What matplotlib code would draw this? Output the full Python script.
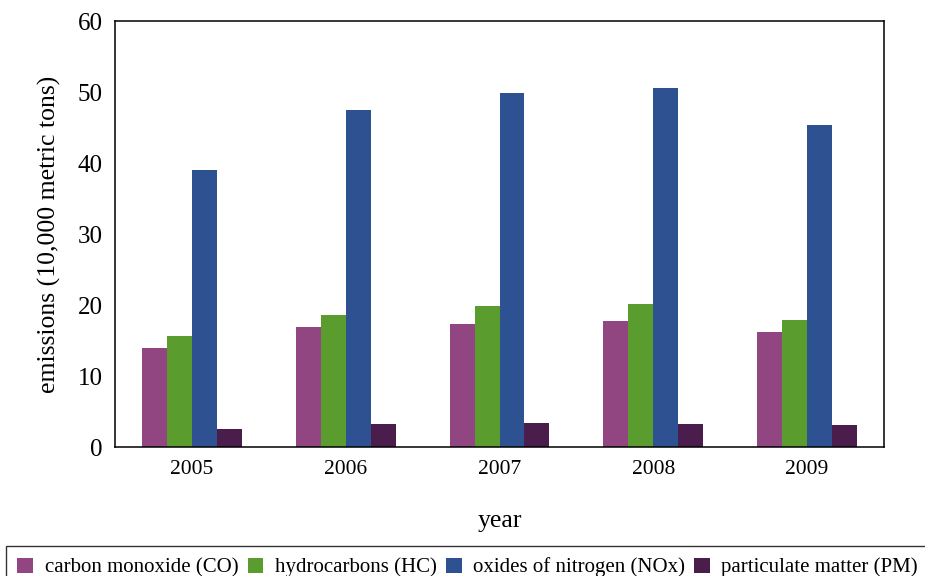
import numpy as np
import matplotlib
matplotlib.use("Agg")
import matplotlib.pyplot as plt
from matplotlib.patches import Patch

years = ["2005", "2006", "2007", "2008", "2009"]
series = ["carbon monoxide (CO)", "hydrocarbons (HC)", "oxides of nitrogen (NOx)", "particulate matter (PM)"]
co = [14.0, 17.0, 17.4, 17.8, 16.3]
hc = [15.7, 18.6, 19.9, 20.2, 17.9]
nox = [39.0, 47.5, 49.9, 50.6, 45.4]
pm = [2.6, 3.3, 3.5, 3.3, 3.2]
y_ticks = [0, 10, 20, 30, 40, 50, 60]

colors = ["#914682", "#5b9c2e", "#2e5291", "#4b1d4d"]

plt.rcParams["font.family"] = ["Liberation Serif", "DejaVu Serif"]

fig = plt.figure(figsize=(9.25, 5.76), dpi=100)
ax = fig.add_axes([0.1243, 0.2231, 0.8314, 0.7404])

x = np.arange(len(years))
w = 0.1625
for i, vals in enumerate([co, hc, nox, pm]):
    ax.bar(x + (i - 1.5) * w, vals, width=w, color=colors[i], linewidth=0, label=series[i])

ax.set_xlim(-0.5, len(years) - 0.5)
ax.set_ylim(0, 60)
ax.set_yticks(y_ticks)
ax.set_xticks(x)
ax.set_xticklabels(years)
ax.tick_params(axis="both", length=0)
ax.tick_params(axis="y", pad=9, labelsize=18)
ax.tick_params(axis="x", pad=9, labelsize=15.5)
for s in ax.spines.values():
    s.set_color("black")
    s.set_linewidth(1.1)

ax.set_xlabel("year", fontsize=18.5, labelpad=22)
ax.set_ylabel("emissions (10,000 metric tons)", fontsize=18.5, labelpad=12)

handles = [Patch(facecolor=c, edgecolor="none") for c in colors]
leg = fig.legend(handles, series, loc="upper left", bbox_to_anchor=(0.0065, 0.052),
                 ncol=4, fontsize=15, frameon=True, fancybox=False,
                 handlelength=0.75, handleheight=0.75, handletextpad=0.55,
                 columnspacing=0.45, borderpad=0.55, borderaxespad=0)
leg.get_frame().set_edgecolor("black")
leg.get_frame().set_linewidth(1.0)

fig.savefig("out.png", dpi=100)
